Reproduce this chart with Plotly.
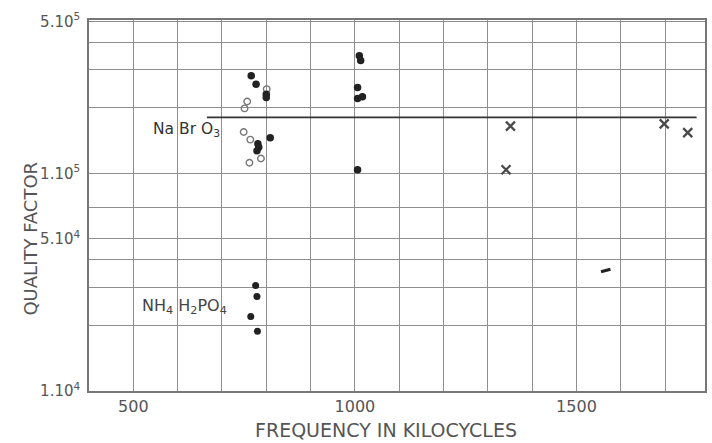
import math
import plotly.graph_objects as go

# Frequencies (kHz) and quality factors
nabro3_filled_f = [766, 777, 800, 800, 809, 781, 783, 779, 1010, 1013, 1006, 1006, 1017, 1006]
nabro3_filled_q = [2.81e5, 2.57e5, 2.31e5, 2.23e5, 1.46e5, 1.37e5, 1.32e5, 1.27e5,
                   3.47e5, 3.30e5, 2.48e5, 2.21e5, 2.25e5, 1.04e5]

nabro3_open_f = [801, 757, 751, 749, 764, 762, 788]
nabro3_open_q = [2.44e5, 2.14e5, 1.99e5, 1.55e5, 1.43e5, 1.12e5, 1.17e5]

cross_f = [1351, 1341, 1698, 1751]
cross_q = [1.65e5, 1.04e5, 1.69e5, 1.54e5]

dash_f = [1566]
dash_q = [3.58e4]

nh4_f = [776, 779, 765, 780]
nh4_q = [3.05e4, 2.72e4, 2.20e4, 1.88e4]

# Mean level drawn for NaBrO3
mean_line_f = [666, 1771]
mean_line_q = [1.81e5, 1.81e5]

x_major = [500, 1000, 1500]
x_major_text = ["500", "1000", "1500"]
x_minor = [400, 600, 700, 800, 900, 1100, 1200, 1300, 1400, 1600, 1700]

y_major = [1e4, 5e4, 1e5, 5e5]
y_major_text = ["1.10<sup>4</sup>", "5.10<sup>4</sup>", "1.10<sup>5</sup>", "5.10<sup>5</sup>"]
y_minor = [2e4, 3e4, 4e4, 7e4, 2e5, 3e5, 4e5]

ink = "#222222"
grid = "#8e8e8e"
text_col = "#555555"
font_family = "'DejaVu Sans', sans-serif"

fig = go.Figure()

fig.add_trace(go.Scatter(
    x=mean_line_f, y=mean_line_q, mode="lines",
    line=dict(color="#333333", width=1.6), showlegend=False, hoverinfo="skip"))

fig.add_trace(go.Scatter(
    x=nabro3_open_f, y=nabro3_open_q, mode="markers",
    marker=dict(symbol="circle-open", size=6.5, color="#777777", line=dict(width=1.4)),
    showlegend=False))

fig.add_trace(go.Scatter(
    x=nabro3_filled_f, y=nabro3_filled_q, mode="markers",
    marker=dict(symbol="circle", size=7.5, color=ink),
    showlegend=False))

fig.add_trace(go.Scatter(
    x=cross_f, y=cross_q, mode="markers",
    marker=dict(symbol="x-thin", size=9, color="#4a4a4a", line=dict(width=2.3, color="#4a4a4a")),
    showlegend=False))

fig.add_trace(go.Scatter(
    x=dash_f, y=dash_q, mode="markers",
    marker=dict(symbol="line-ew", size=7, angle=-15, color=ink, line=dict(width=3, color=ink)),
    showlegend=False))

fig.add_trace(go.Scatter(
    x=nh4_f, y=nh4_q, mode="markers",
    marker=dict(symbol="circle", size=7, color=ink),
    showlegend=False))

fig.update_xaxes(
    range=[400, 1790],
    tickvals=x_major, ticktext=x_major_text,
    showgrid=True, gridcolor=grid, gridwidth=1.4,
    minor=dict(tickvals=x_minor, showgrid=True, gridcolor=grid, gridwidth=1.4),
    showline=True, linecolor="#777777", linewidth=1.6, mirror=True,
    ticks="", zeroline=False,
    tickfont=dict(family=font_family, size=16, color=text_col),
)
fig.update_yaxes(
    type="log", range=[4, 5.705],
    tickvals=y_major, ticktext=y_major_text,
    showgrid=True, gridcolor=grid, gridwidth=1.4,
    minor=dict(tickvals=y_minor, showgrid=True, gridcolor=grid, gridwidth=1.4),
    showline=True, linecolor="#777777", linewidth=1.6, mirror=True,
    ticks="", zeroline=False, ticklabelstandoff=4,
    tickfont=dict(family=font_family, size=15, color=text_col),
)

# Series labels (annotation y on a log axis is given in log10 units)
fig.add_annotation(
    x=0.0, xref="paper", xanchor="left", xshift=62,
    y=math.log10(mean_line_q[0]), yref="y", yshift=-13,
    text="Na Br O<sub>3</sub>", showarrow=False,
    font=dict(family=font_family, size=15.5, color="#333333"))

fig.add_annotation(
    x=0.0, xref="paper", xanchor="left", xshift=51,
    y=math.log10(2.45e4), yref="y",
    text="NH<sub>4</sub> H<sub>2</sub>PO<sub>4</sub>", showarrow=False,
    font=dict(family=font_family, size=16, color="#444444"))

fig.add_annotation(
    x=0.482, xref="paper", y=-0.07, yref="paper", yanchor="top",
    text="FREQUENCY IN KILOCYCLES", showarrow=False,
    font=dict(family=font_family, size=19, color=text_col))

fig.add_annotation(
    x=-0.115, xref="paper", y=0.41, yref="paper", textangle=-90,
    text="QUALITY FACTOR", showarrow=False,
    font=dict(family=font_family, size=18, color=text_col))

fig.update_layout(
    width=712, height=443,
    margin=dict(l=89, r=5, t=20, b=52),
    paper_bgcolor="white", plot_bgcolor="white",
    showlegend=False,
)

fig.write_html("out.html")
